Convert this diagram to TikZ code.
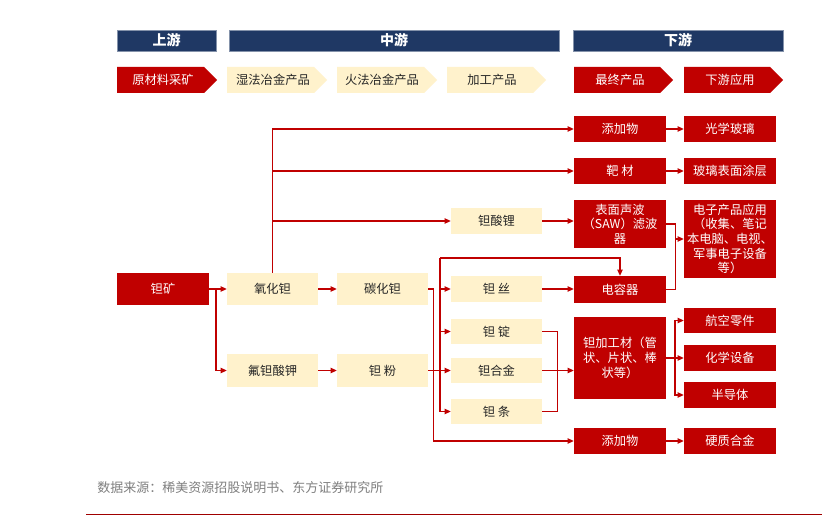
\documentclass[tikz,border=0pt]{standalone}
\usepackage{fontspec}
\setmainfont{Noto Sans CJK SC}
\usetikzlibrary{arrows.meta,calc}
\definecolor{myred}{HTML}{C00000}
\definecolor{linered}{HTML}{C00000}
\definecolor{cream}{HTML}{FFF2CC}
\definecolor{navy}{HTML}{1F3864}
\definecolor{txt}{HTML}{262626}
\definecolor{foot}{HTML}{7F7F7F}
\definecolor{footline}{HTML}{A00000}
\tikzset{
  base/.style={rectangle, inner sep=1pt, align=center, font=\fontsize{9.2}{11}\selectfont},
  redbox/.style={base, fill=myred, text=white},
  creambox/.style={base, fill=cream, text=txt},
  hdr/.style={rectangle, fill=navy, draw=navy!55!white, line width=0.4pt, text=white,
    font=\fontsize{10.5}{12}\selectfont\bfseries, minimum height=15.75pt, inner sep=0pt},
  chevred/.style={fill=myred},
  chevcream/.style={fill=cream},
  chevtxt/.style={font=\fontsize{9.2}{11}\selectfont, inner sep=0pt},
  line/.style={draw=linered, line width=0.8pt},
  arr/.style={line, -{Triangle[length=4.5pt,width=4pt]}},
}
\begin{document}
\begin{tikzpicture}[x=0.75pt,y=-0.75pt]
\useasboundingbox (0,0) rectangle (822,528);
\fill[white] (0,0) rectangle (822,528);

% header bars
\node[hdr, minimum width=74.25pt] (hup) at (166.5,40.5) {上游};
\node[hdr, minimum width=247.5pt] (hmid) at (394,40.5) {中游};
\node[hdr, minimum width=157.5pt] (hdown) at (678,40.5) {下游};

% chevrons
\fill[chevred]   (117,67) -- (204,67) -- (217,80) -- (204,93) -- (117,93) -- cycle;
\fill[chevcream] (227,67) -- (314,67) -- (327,80) -- (314,93) -- (227,93) -- cycle;
\fill[chevcream] (337,67) -- (424,67) -- (437,80) -- (424,93) -- (337,93) -- cycle;
\fill[chevcream] (447,67) -- (533,67) -- (546,80) -- (533,93) -- (447,93) -- cycle;
\fill[chevred]   (574,67) -- (660,67) -- (673,80) -- (660,93) -- (574,93) -- cycle;
\fill[chevred]   (684,67) -- (770,67) -- (783,80) -- (770,93) -- (684,93) -- cycle;
\node[chevtxt, text=white] (c1) at (163,80) {原材料采矿};
\node[chevtxt, text=txt] (c2) at (273,80) {湿法冶金产品};
\node[chevtxt, text=txt] (c3) at (382,80) {火法冶金产品};
\node[chevtxt, text=txt] (c4) at (492,80) {加工产品};
\node[chevtxt, text=white] (c5) at (620,80) {最终产品};
\node[chevtxt, text=white] (c6) at (730,80) {下游应用};

% column 1-2
\node[redbox, minimum width=69pt, minimum height=24pt] (kuang) at (163,289) {钽矿};
\node[creambox, minimum width=68.25pt, minimum height=24pt] (ox) at (272.5,289) {氧化钽};
\node[creambox, minimum width=68.25pt, minimum height=24pt] (tan) at (382.5,289) {碳化钽};
\node[creambox, minimum width=68.25pt, minimum height=24.75pt] (fu) at (272.5,370.5) {氟钽酸钾};
\node[creambox, minimum width=68.25pt, minimum height=24.75pt] (fen) at (382.5,370.5) {钽 粉};

% column 3
\node[creambox, minimum width=68.25pt, minimum height=19.5pt] (li) at (496.5,221) {钽酸锂};
\node[creambox, minimum width=68.25pt, minimum height=19.5pt] (si) at (496.5,289) {钽 丝};
\node[creambox, minimum width=68.25pt, minimum height=18.75pt] (ding) at (496.5,331.5) {钽 锭};
\node[creambox, minimum width=68.25pt, minimum height=18.75pt] (he) at (496.5,370.5) {钽合金};
\node[creambox, minimum width=68.25pt, minimum height=18.75pt] (tiao) at (496.5,411.5) {钽 条};

% column 4
\node[redbox, minimum width=69pt, minimum height=19.5pt] (add1) at (620,129) {添加物};
\node[redbox, minimum width=69pt, minimum height=19.5pt] (ba) at (620,171) {靶 材};
\node[redbox, minimum width=69pt, minimum height=36pt] (saw) at (620,224) {表面声波\\（SAW）滤波\\器};
\node[redbox, minimum width=69pt, minimum height=20.25pt] (cap) at (620,289.5) {电容器};
\node[redbox, minimum width=69pt, minimum height=61.5pt] (jg) at (620,358) {钽加工材（管\\状、片状、棒\\状等）};
\node[redbox, minimum width=69pt, minimum height=19.5pt] (add2) at (620,441) {添加物};

% column 5
\node[redbox, minimum width=69pt, minimum height=19.5pt] (opt) at (730,129) {光学玻璃};
\node[redbox, minimum width=69pt, minimum height=19.5pt] (coat) at (730,171) {玻璃表面涂层};
\node[redbox, minimum width=69pt, minimum height=58.5pt] (elec) at (730,239) {电子产品应用\\（收集、笔记\\本电脑、电视、\\军事电子设备\\等）};
\node[redbox, minimum width=69pt, minimum height=18.75pt] (hang) at (730,320.5) {航空零件};
\node[redbox, minimum width=69pt, minimum height=19.5pt] (hua) at (730,358) {化学设备};
\node[redbox, minimum width=69pt, minimum height=19.5pt] (ban) at (730,395) {半导体};
\node[redbox, minimum width=69pt, minimum height=19.5pt] (hard) at (730,441) {硬质合金};

% junction coordinates
\coordinate (jA) at (216,289);
\coordinate (bt) at (440,258);
\coordinate (jE) at (675,239);
\coordinate (jJ) at (675,358);

% connectors
\draw[arr] (kuang.east) -- (ox.west);
\draw[arr] (jA) |- (fu.west);
\draw[arr] (ox.north) |- (add1.west);
\draw[arr] (ox.north) |- (ba.west);
\draw[arr] (ox.north) |- (li.west);
\draw[arr] (ox.east) -- (tan.west);
\draw[arr] (fu.east) -- (fen.west);
\draw[arr] (tan.east) -- ++(5,0) |- (add2.west);
\draw[arr] (li.east) -- (li.east -| saw.west);
\draw[arr] (bt) -| (cap.north);
\draw[arr] (bt) |- (si.west);
\draw[arr] (bt) |- (ding.west);
\draw[arr] (bt) |- (tiao.west);
\draw[arr] (fen.east) -- (he.west);
\draw[arr] (si.east) -- (si.east -| cap.west);
\draw[line] (ding.east) -- ++(15,0) |- (tiao.east);
\draw[arr] (he.east) -- (he.east -| jg.west);
\draw[line] (saw.east) -- ++(9,0) |- (cap.east);
\draw[arr] (jE) -- (elec.west);
\draw[line] (jg.east) -- (jJ);
\draw[arr] (jJ) |- (hang.west);
\draw[arr] (jJ) |- (hua.west);
\draw[arr] (jJ) |- (ban.west);
\draw[arr] (add1) -- (opt);
\draw[arr] (ba) -- (coat);
\draw[arr] (add2) -- (hard);

% footer
\node[anchor=west, text=foot, font=\fontsize{9.75}{11}\selectfont, inner sep=0pt] (src) at (97,488) {数据来源：稀美资源招股说明书、东方证券研究所};
\coordinate (fl) at (86,514);
\coordinate (fr) at (822,514);
\draw[footline, line width=0.75pt] (fl) -- (fr);
\end{tikzpicture}
\end{document}
